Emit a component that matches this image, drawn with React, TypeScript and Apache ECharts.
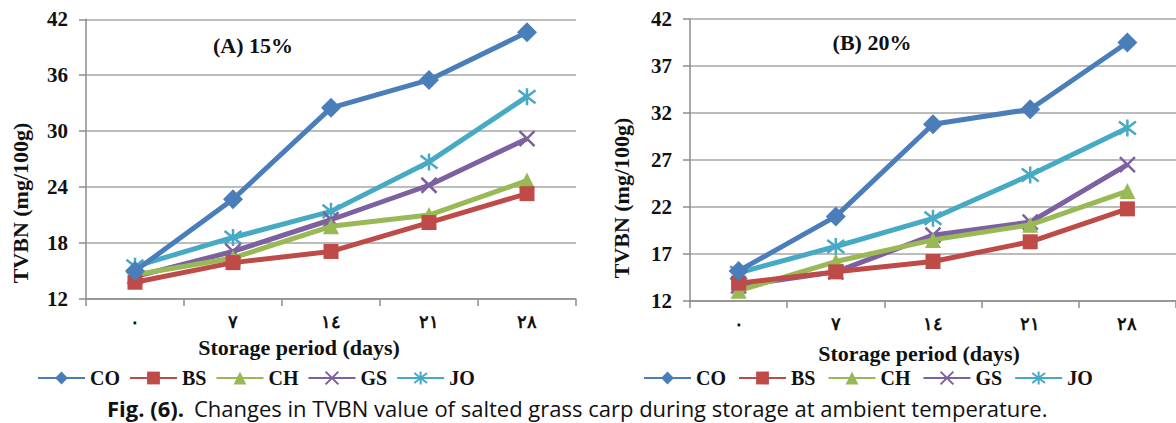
import React, { useEffect, useRef } from "react";
import * as echarts from "echarts";

const days = ["٠", "٧", "١٤", "٢١", "٢٨"];
const seriesNames = ["CO", "BS", "CH", "GS", "JO"];

// (A) 15%
const coA = [15.0, 22.7, 32.5, 35.5, 40.6];
const bsA = [13.8, 15.9, 17.1, 20.2, 23.3];
const chA = [14.6, 16.4, 19.8, 21.0, 24.7];
const gsA = [14.4, 17.1, 20.5, 24.2, 29.2];
const joA = [15.5, 18.6, 21.4, 26.7, 33.7];

// (B) 20%
const coB = [15.2, 21.0, 30.8, 32.4, 39.5];
const bsB = [13.9, 15.1, 16.2, 18.3, 21.8];
const chB = [13.1, 16.2, 18.5, 20.1, 23.7];
const gsB = [13.6, 15.1, 19.0, 20.4, 26.5];
const joB = [15.0, 17.8, 20.8, 25.4, 30.4];

const yTicksA = { min: 12, max: 42, interval: 6 };
const yTicksB = { min: 12, max: 42, interval: 5 };

const colors = ["#4a7ebb", "#be4b48", "#98b954", "#7d60a0", "#46aac5"];
const symbols = [
  "diamond",
  "rect",
  "triangle",
  "path://M0,0L10,10M10,0L0,10",
  "path://M0,0L10,10M10,0L0,10M5,-1.5L5,11.5",
];
const symbolSizes = [20, 15, 16, 15, 17];

const SERIF = "'Liberation Serif', 'Times New Roman', serif";
const SANS = "'Open Sans', sans-serif";

export default function App() {
  const ref = useRef<HTMLDivElement>(null);
  useEffect(() => {
    if (!ref.current) return;
    const chart = echarts.init(ref.current, undefined, { renderer: "svg" });
    const dataA = [coA, bsA, chA, gsA, joA];
    const dataB = [coB, bsB, chB, gsB, joB];

    const mkSeries = (data: number[][], idx: number) =>
      data.map((d, i) => ({
        name: seriesNames[i],
        type: "line",
        xAxisIndex: idx,
        yAxisIndex: idx,
        data: d,
        symbol: symbols[i],
        symbolSize: symbolSizes[i],
        showAllSymbol: true,
        lineStyle: { color: colors[i], width: 5 },
        itemStyle:
          i >= 3
            ? { color: colors[i], borderColor: colors[i], borderWidth: 2.5 }
            : { color: colors[i], borderWidth: 0 },
        emphasis: { disabled: true },
        z: 10 - i,
      }));

    const xAxisBase = (gridIndex: number) => ({
      type: "category",
      gridIndex,
      data: days,
      boundaryGap: true,
      axisLine: { show: true, lineStyle: { color: "#8c8c8c", width: 1.5 } },
      axisTick: { show: true, length: 7, inside: false, lineStyle: { color: "#8c8c8c", width: 1.5 } },
      axisLabel: {
        color: "#111",
        fontFamily: SERIF,
        fontWeight: "bold",
        fontSize: 18,
        margin: 14,
      },
      splitLine: { show: false },
    });

    const yAxisBase = (gridIndex: number, t: { min: number; max: number; interval: number }) => ({
      type: "value",
      gridIndex,
      min: t.min,
      max: t.max,
      interval: t.interval,
      axisLine: { show: true, lineStyle: { color: "#8c8c8c", width: 1.5 } },
      axisTick: { show: true, length: 7, lineStyle: { color: "#8c8c8c", width: 1.5 } },
      axisLabel: {
        color: "#111",
        fontFamily: SERIF,
        fontWeight: "bold",
        fontSize: 21,
        margin: 18,
      },
      splitLine: { show: true, lineStyle: { color: "#a6a6a6", width: 1.5 } },
    });

    const legendBase = (left: number, gap: number) => ({
      left,
      top: 368,
      padding: 0,
      orient: "horizontal",
      itemWidth: 47,
      itemHeight: 16,
      itemGap: gap,
      data: seriesNames,
      selectedMode: false,
      textStyle: { fontFamily: SERIF, fontWeight: "bold", fontSize: 20, color: "#111" },
    });

    const txt = (x: number, y: number, text: string, size: number, rotation = 0) => ({
      type: "text",
      x,
      y,
      rotation,
      style: {
        text,
        fontFamily: SERIF,
        fontWeight: "bold",
        fontSize: size,
        fill: "#111",
        textAlign: "center",
        textVerticalAlign: "middle",
      },
    });

    chart.setOption({
      animation: false,
      backgroundColor: "#fff",
      grid: [
        { left: 86, top: 19.3, width: 490, height: 279.7, containLabel: false },
        { left: 690, top: 19, width: 495, height: 282, containLabel: false },
      ],
      xAxis: [xAxisBase(0), xAxisBase(1)],
      yAxis: [yAxisBase(0, yTicksA), yAxisBase(1, yTicksB)],
      legend: [legendBase(37, 9), legendBase(643, 12)],
      series: [...mkSeries(dataA, 0), ...mkSeries(dataB, 1)],
      graphic: [
        txt(253, 45, "(A) 15%", 22),
        txt(872, 42, "(B) 20%", 22),
        txt(299, 347, "Storage period (days)", 22),
        txt(919, 353, "Storage period (days)", 22),
        txt(20, 203, "TVBN (mg/100g)", 22, Math.PI / 2),
        txt(621, 198, "TVBN (mg/100g)", 22, Math.PI / 2),
        {
          type: "text",
          x: 107,
          y: 408,
          style: {
            text: "Fig. (6).",
            fontFamily: SANS,
            fontSize: 22,
            fontWeight: "bold",
            fill: "#111",
            textAlign: "left",
            textVerticalAlign: "middle",
          },
        },
        {
          type: "text",
          x: 194,
          y: 408,
          style: {
            text: "Changes in TVBN value of salted grass carp during storage at ambient temperature.",
            fontFamily: SANS,
            fontSize: 22,
            fill: "#111",
            textAlign: "left",
            textVerticalAlign: "middle",
          },
        },
      ],
    });
    return () => chart.dispose();
  }, []);
  return (
    <div
      ref={ref}
      style={{ position: "absolute", left: 0, top: 0, width: 1176, height: 423 }}
    />
  );
}
